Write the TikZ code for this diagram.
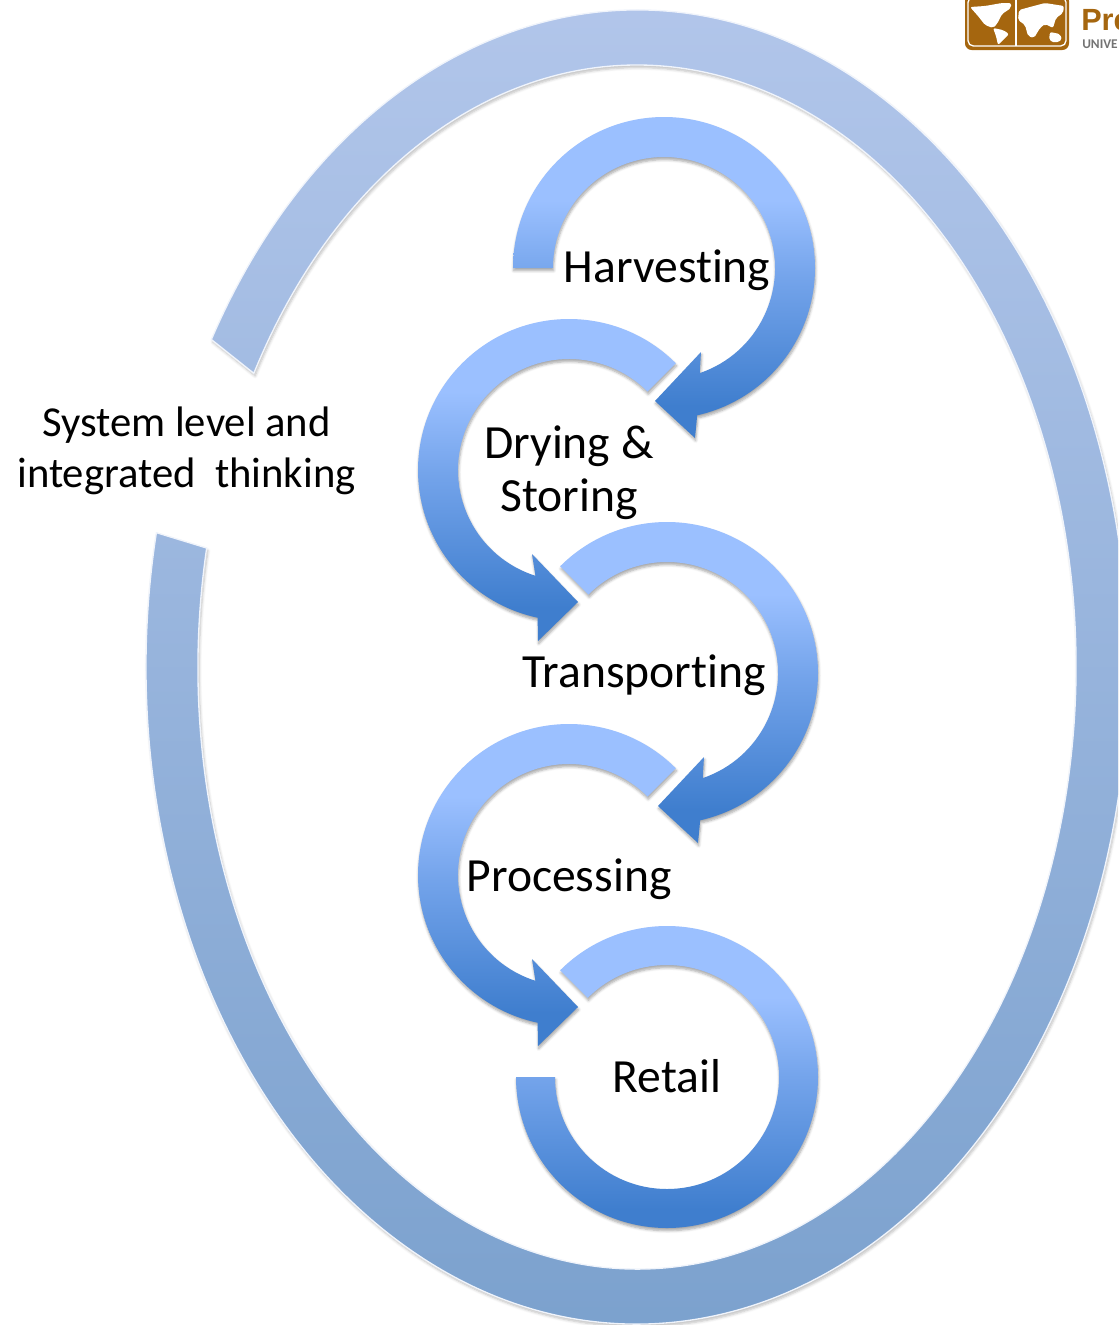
\documentclass[tikz,border=0pt]{standalone}
\usepackage{fontspec}
\setmainfont[Ligatures=NoCommon]{Carlito}
\newfontfamily\logofont{Liberation Sans}
\usetikzlibrary{shadows,shadows.blur}

\definecolor{ringtop}{HTML}{B5C8EC}
\definecolor{ringbot}{HTML}{789FCC}
\definecolor{arrowtop}{HTML}{9BC0FF}
\definecolor{arrowmid}{HTML}{74A4EB}
\definecolor{arrowbot}{HTML}{3F7ECE}
\definecolor{logobrown}{HTML}{A5660F}

\pgfdeclareverticalshading{arrowgrad}{100bp}{color(0bp)=(arrowbot); color(30bp)=(arrowbot); color(50bp)=(arrowmid); color(62bp)=(arrowtop); color(100bp)=(arrowtop)}

\tikzset{
  ringshape/.style={top color=ringtop,bottom color=ringbot,draw=white!80!ringtop,line width=1,
    blur shadow={shadow xshift=1pt,shadow yshift=-2pt,shadow blur radius=2pt,shadow blur steps=5,shadow opacity=25}},
  arrowshape/.style={shading=arrowgrad,
    blur shadow={shadow xshift=0.5pt,shadow yshift=-2pt,shadow blur radius=2pt,shadow blur steps=5,shadow opacity=35}},
  steptext/.style={align=center,inner sep=0pt,font=\fontsize{35.7}{40}\selectfont},
  sidetext/.style={align=center,inner sep=0pt,font=\fontsize{32}{38}\selectfont},
  landshape/.style={fill=white,draw=none,rounded corners=1.5}
}

\begin{document}
\begin{tikzpicture}[x=0.75pt,y=0.75pt]

\useasboundingbox (0,0) rectangle (1118,-1325);
\clip (0,0) rectangle (1118,-1325);

% outer ring
\path[ringshape,shift={(637,-667)}] (150.1:491 and 657)
  arc[start angle=150.1,end angle=-191.8,x radius=491,y radius=657]
  -- (-191.4:439 and 602)
  arc[start angle=-191.4,end angle=150.8,x radius=439,y radius=602]
  -- cycle;

\node[sidetext] (system) at (186.5,-451) {System level and\\integrated\ \ thinking};

% harvesting
\begin{scope}[shift={(664,-268)}]
\path[arrowshape] (180:151) arc[start angle=180,end angle=-77.3,radius=151]
  -- (31,-170) -- (-9,-133) -- (37,-84) -- (-71.2:111)
  arc[start angle=-71.2,end angle=180,radius=111] -- cycle;
\node[steptext] (harvesting) at (3,-2) {Harvesting};
\end{scope}

% drying
\begin{scope}[shift={(569,-470)}]
\path[arrowshape] (45:151) arc[start angle=45,end angle=258,radius=151]
  -- (-31,-171) -- (9,-132) -- (-37,-84) -- (252.4:111)
  arc[start angle=252.4,end angle=45,radius=111] -- cycle;
\node[steptext] (drying) at (0,-3) {Drying \&\\Storing};
\end{scope}

% transporting
\begin{scope}[shift={(667,-673)}]
\path[arrowshape] (135:151) arc[start angle=135,end angle=-77.3,radius=151]
  -- (31,-170) -- (-9,-133) -- (37,-84) -- (-71.2:111)
  arc[start angle=-71.2,end angle=135,radius=111] -- cycle;
\node[steptext] (transporting) at (-23,-2) {Transporting};
\end{scope}

% processing
\begin{scope}[shift={(569,-875)}]
\path[arrowshape] (45:151) arc[start angle=45,end angle=258,radius=151]
  -- (-31,-171) -- (9,-132) -- (-37,-84) -- (252.4:111)
  arc[start angle=252.4,end angle=45,radius=111] -- cycle;
\node[steptext] (processing) at (0,-4) {Processing};
\end{scope}

% retail
\begin{scope}[shift={(667,-1077)}]
\path[arrowshape] (135:151) arc[start angle=135,end angle=-180,radius=151]
  -- (180:112) arc[start angle=-180,end angle=135,radius=112] -- cycle;
\node[steptext] (retail) at (0,1) {Retail};
\end{scope}

% logo
\begin{scope}
\fill[logobrown,rounded corners=5] (965,6) rectangle (1069,-50);
\draw[white,line width=1,rounded corners=4] (968,3) rectangle (1066,-46);
\fill[white] (1015,3) rectangle (1017,-46);
\fill[landshape] (970,-7) -- (985,-6) -- (1002,-3) -- (1011,-3) -- (1011,-8) -- (1002,-14) -- (997,-24) -- (993,-28) -- (985,-25) -- (978,-16) -- cycle;
\fill[landshape] (993,-28) -- (1003,-30) -- (1009,-34) -- (1003,-40) -- (998,-45) -- (996,-36) -- cycle;
\fill[landshape] (1019,-10) -- (1030,-7) -- (1045,-3) -- (1064,-6) -- (1063,-13) -- (1056,-18) -- (1053,-28) -- (1045,-24) -- (1040,-28) -- (1034,-38) -- (1028,-36) -- (1025,-25) -- (1018,-20) -- cycle;
\fill[landshape] (1050,-32) -- (1060,-34) -- (1062,-40) -- (1055,-43) -- (1049,-40) -- cycle;
\node[anchor=base west,inner sep=0pt,text=logobrown,font=\logofont\fontsize{23}{23}\selectfont\bfseries] (logoname) at (1081,-30) {Pre};
\node[anchor=base west,inner sep=0pt,text=black!55,font=\fontsize{10}{10}\selectfont\bfseries] (logosub) at (1082,-48) {UNIVE};
\end{scope}

\end{tikzpicture}
\end{document}
